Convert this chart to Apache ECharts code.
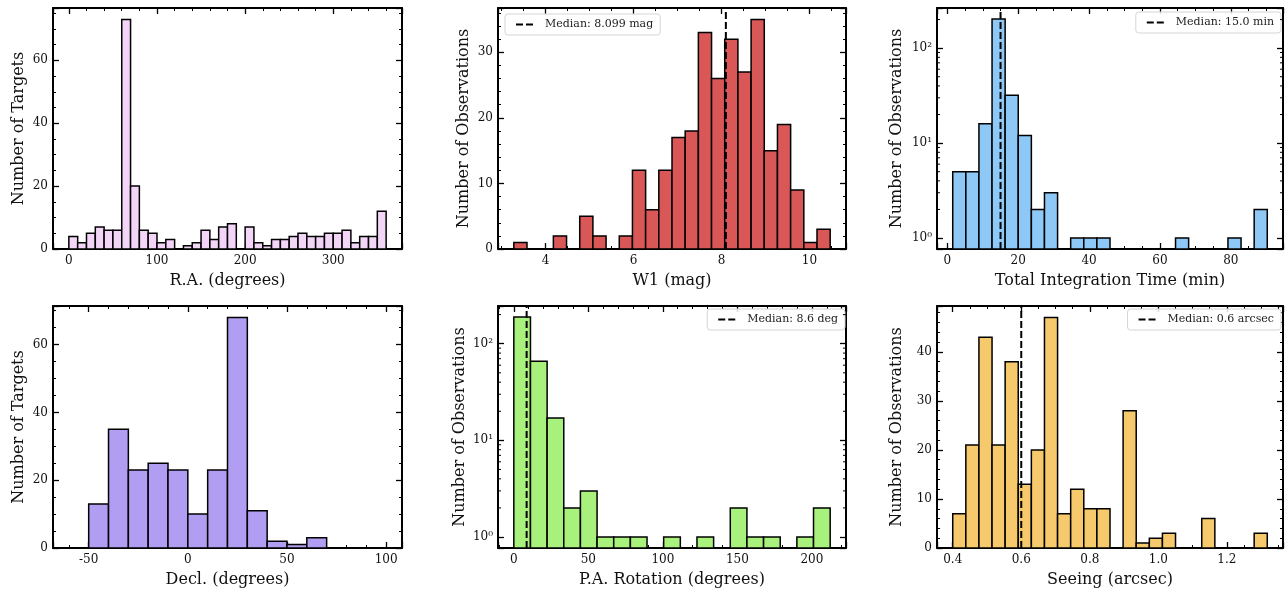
<!DOCTYPE html>
<html><head><meta charset="utf-8">
<script src="https://cdn.jsdelivr.net/npm/echarts@6/dist/echarts.min.js"></script>
<style>html,body{margin:0;padding:0;background:#fff}#c{width:1286px;height:593px}</style>
</head><body><div id="c"></div>
<script>
// ---- data ----
const raCounts = [4,2,5,7,6,6,73,20,6,5,2,3,0,1,2,6,3,7,8,0,7,2,1,3,3,4,5,4,4,5,5,6,2,4,4,12];
const raRange = [0, 360];

const w1Counts = [1,0,0,2,0,5,2,0,2,12,6,12,17,18,33,26,32,27,35,15,19,9,1,3];
const w1Range = [3.28, 10.47];
const w1Median = 8.099;

const timeCounts = [5,5,16,203,32,12,2,3,0,1,1,1,0,0,0,0,0,1,0,0,0,1,0,2];
const timeRange = [1.5, 90.3];
const timeMedian = 15.0;

const decCounts = [0,13,35,23,25,23,10,23,68,11,2,1,3,0,0,0];
const decRange = [-60, 100];

const paCounts = [189,66,17,2,3,1,1,1,0,1,0,1,0,2,1,1,0,1,2];
const paRange = [0, 212.3];
const paMedian = 8.6;

const seeCounts = [7,21,43,21,38,13,20,47,7,12,8,8,0,28,1,2,3,0,0,6,0,0,0,3];
const seeRange = [0.4, 1.318];
const seeMedian = 0.6;

// minor tick values of a base-10 log axis (2..9 x 10^n)
const logMinorTicks = [2,3,4,5,6,7,8,9,20,30,40,50,60,70,80,90,200,300];

const FONT = 'DejaVu Serif';
const SUP = {'-1':'⁻¹','0':'⁰','1':'¹','2':'²','3':'³'};

const panels = [
  {counts: raCounts, range: raRange, color:'#f3d5f8', xName:'R.A. (degrees)', yName:'Number of Targets',
   xStep:100, xMinor:5, yStep:20, yMinor:4, xDec:0, grid:{left:53, top:8, width:349, height:241}, yGap:26},
  {counts: w1Counts, range: w1Range, color:'#d95757', xName:'W1 (mag)', yName:'Number of Observations',
   xStep:2, xMinor:4, yStep:10, yMinor:5, xDec:0, median:w1Median, medianLabel:'Median: 8.099 mag',
   legendPos:{left:505, top:14}, grid:{left:498, top:8, width:348, height:241}, yGap:26},
  {counts: timeCounts, range: timeRange, color:'#8dc8f7', xName:'Total Integration Time (min)', yName:'Number of Observations',
   xStep:20, xMinor:4, log:true, xDec:0, median:timeMedian, medianLabel:'Median: 15.0 min',
   legendPos:{right:5, top:12}, grid:{left:937, top:8, width:347, height:241}, yGap:32},
  {counts: decCounts, range: decRange, color:'#b19df2', xName:'Decl. (degrees)', yName:'Number of Targets',
   xStep:50, xMinor:5, yStep:20, yMinor:4, xDec:0, grid:{left:53, top:306, width:349, height:242}, yGap:26},
  {counts: paCounts, range: paRange, color:'#a8f17c', xName:'P.A. Rotation (degrees)', yName:'Number of Observations',
   xStep:50, xMinor:5, log:true, xDec:0, median:paMedian, medianLabel:'Median: 8.6 deg',
   legendPos:{right:441, top:309}, grid:{left:498, top:306, width:348, height:242}, yGap:30},
  {counts: seeCounts, range: seeRange, color:'#f6ca6c', xName:'Seeing (arcsec)', yName:'Number of Observations',
   xStep:0.2, xMinor:4, yStep:10, yMinor:5, xDec:1, median:seeMedian, medianLabel:'Median: 0.6 arcsec',
   legendPos:{right:5, top:309}, grid:{left:937, top:306, width:347, height:242}, yGap:32}
];

function isMultiple(v, step) {
  const r = v / step;
  return Math.abs(r - Math.round(r)) < 1e-6;
}

const option = {animation:false, grid:[], xAxis:[], yAxis:[], series:[], legend:[]};

panels.forEach((p, g) => {
  option.grid.push(Object.assign({containLabel:false}, p.grid));
  const n = p.counts.length;
  const w = (p.range[1] - p.range[0]) / n;
  const data = [];
  p.counts.forEach((c, i) => { if (c > 0) data.push([p.range[0] + i*w, p.range[0] + (i+1)*w, c]); });
  const span = p.range[1] - p.range[0];
  const xmin = p.range[0] - 0.05*span, xmax = p.range[1] + 0.05*span;
  const cmax = Math.max(...p.counts);
  let ymin, ymax;
  if (p.log) { const L = Math.log10(cmax); ymin = Math.pow(10, -0.05*L); ymax = Math.pow(10, 1.05*L); }
  else { ymin = 0; ymax = 1.05*cmax; }

  const line = {show:true, onZero:false, lineStyle:{color:'#000', width:2}};
  const tick = {show:true, inside:true, length:6, lineStyle:{color:'#000', width:1.3}};
  const labelStyle = {color:'#111', fontFamily:FONT, fontSize:12};

  const xBase = {gridIndex:g, type:'value', min:xmin, max:xmax, splitNumber:5,
    minInterval:p.xStep, maxInterval:p.xStep, axisLine:line, axisTick:tick,
    minorTick:{show:true, splitNumber:p.xMinor, length:3, lineStyle:{color:'#000', width:1}},
    splitLine:{show:false}, minorSplitLine:{show:false}};
  option.xAxis.push(Object.assign({}, xBase, {position:'bottom',
    axisLabel:Object.assign({margin:6, showMinLabel:true, showMaxLabel:true,
      formatter:v => isMultiple(v, p.xStep) ? (Math.abs(v) < 1e-9 ? 0 : v).toFixed(p.xDec) : ''}, labelStyle),
    name:p.xName, nameLocation:'middle', nameGap:24,
    nameTextStyle:{fontFamily:FONT, fontSize:16, color:'#111'}}));
  option.xAxis.push(Object.assign({}, xBase, {position:'top', axisLabel:{show:false}}));

  let yBase;
  if (p.log) {
    yBase = {gridIndex:g, type:'log', logBase:10, min:ymin, max:ymax, axisLine:line, axisTick:tick,
      minorTick:{show:false}, splitLine:{show:false}};
  } else {
    yBase = {gridIndex:g, type:'value', min:ymin, max:ymax, splitNumber:4,
      minInterval:p.yStep, maxInterval:p.yStep, axisLine:line, axisTick:tick,
      minorTick:{show:true, splitNumber:p.yMinor, length:3, lineStyle:{color:'#000', width:1}},
      splitLine:{show:false}, minorSplitLine:{show:false}};
  }
  const yFmt = p.log
    ? (v => { const e = Math.log10(v); const r = Math.round(e); return Math.abs(e - r) < 1e-6 ? '10' + SUP[String(r)] : ''; })
    : (v => isMultiple(v, p.yStep) ? String(Math.round(v)) : '');
  option.yAxis.push(Object.assign({}, yBase, {position:'left',
    axisLabel:Object.assign({margin:5, showMinLabel:true, showMaxLabel:true, formatter:yFmt}, labelStyle),
    name:p.yName, nameLocation:'middle', nameGap:p.yGap,
    nameTextStyle:{fontFamily:FONT, fontSize:16, color:'#111'}}));
  option.yAxis.push(Object.assign({}, yBase, {position:'right', axisLabel:{show:false}}));

  const ybase = ymin;
  const color = p.color;
  option.series.push({
    type:'custom', xAxisIndex:2*g, yAxisIndex:2*g, data:data, encode:{x:[0,1], y:2}, silent:true,
    renderItem:(params, api) => {
      const a = api.coord([api.value(0), ybase]);
      const b = api.coord([api.value(1), api.value(2)]);
      return {type:'rect', shape:{x:a[0], y:b[1], width:b[0]-a[0], height:a[1]-b[1]},
        style:{fill:color, stroke:'#000', lineWidth:1.5}};
    }
  });

  if (p.log) {
    // log-axis minor ticks on both the left and right frame edges
    const mdata = logMinorTicks.filter(v => v > ymin && v < ymax).map(v => [xmin, v]);
    option.series.push({
      type:'custom', xAxisIndex:2*g, yAxisIndex:2*g, data:mdata, encode:{x:0, y:1}, silent:true, z:6,
      renderItem:(params, api) => {
        const l = api.coord([xmin, api.value(1)]);
        const r = api.coord([xmax, api.value(1)]);
        return {type:'group', children:[
          {type:'line', shape:{x1:l[0], y1:l[1], x2:l[0]+3, y2:l[1]}, style:{stroke:'#000', lineWidth:1}},
          {type:'line', shape:{x1:r[0], y1:r[1], x2:r[0]-3, y2:r[1]}, style:{stroke:'#000', lineWidth:1}}
        ]};
      }
    });
  }

  if (p.median != null) {
    option.series.push({
      type:'line', name:p.medianLabel, xAxisIndex:2*g, yAxisIndex:2*g,
      data:[[p.median, ymin], [p.median, ymax]], symbol:'none', silent:true, z:5,
      lineStyle:{color:'#000', width:2, type:[7,3]}, itemStyle:{color:'#000'}
    });
    option.legend.push(Object.assign({
      data:[p.medianLabel], orient:'horizontal', backgroundColor:'rgba(255,255,255,0.85)',
      borderColor:'#d5d5d5', borderWidth:1, borderRadius:3, padding:[5,7,5,10], itemWidth:20, itemHeight:10,
      itemGap:6, selectedMode:false,
      itemStyle:{color:'rgba(0,0,0,0)', borderWidth:0, opacity:0},
      lineStyle:{color:'#000', width:2, type:[7,3]},
      textStyle:{fontFamily:FONT, fontSize:11, color:'#222', padding:[0,0,0,4]}
    }, p.legendPos));
  }
});

const chart = echarts.init(document.getElementById('c'), null, {renderer:'canvas'});
chart.setOption(option);
</script>
</body></html>
